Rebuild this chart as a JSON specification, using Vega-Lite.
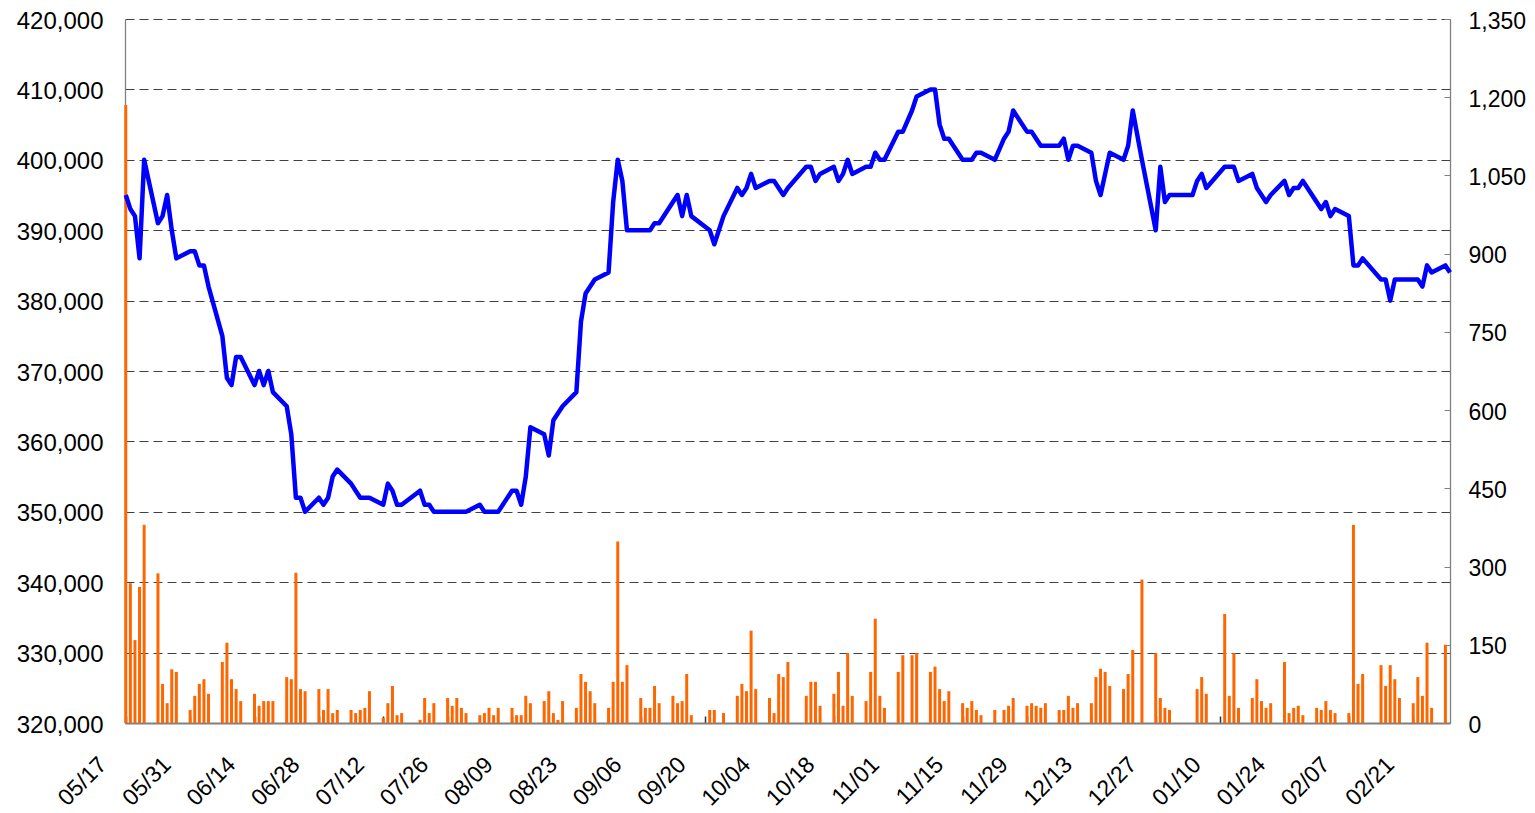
{
  "$schema": "https://vega.github.io/schema/vega-lite/v6.json",
  "width": 1325,
  "height": 704,
  "autosize": {"type": "none"},
  "padding": {"left": 125, "top": 19, "right": 85, "bottom": 90},
  "background": "white",
  "config": {
    "view": {"stroke": null},
    "font": "Liberation Sans",
    "axis": {"labelFont": "Liberation Sans", "labelFontSize": 23, "labelColor": "#000000", "labelFlush": false, "labelOverlap": false}
  },
  "datasets": {
    "price": [
      {"date":"2010-05-17","price":395000},{"date":"2010-05-18","price":393000},{"date":"2010-05-19","price":392000},{"date":"2010-05-20","price":386000},{"date":"2010-05-21","price":400000},
      {"date":"2010-05-24","price":391000},{"date":"2010-05-25","price":392000},{"date":"2010-05-26","price":395000},{"date":"2010-05-27","price":390000},{"date":"2010-05-28","price":386000},
      {"date":"2010-05-31","price":387000},{"date":"2010-06-01","price":387000},{"date":"2010-06-02","price":385000},{"date":"2010-06-03","price":385000},{"date":"2010-06-04","price":382000},
      {"date":"2010-06-07","price":375000},{"date":"2010-06-08","price":369000},{"date":"2010-06-09","price":368000},{"date":"2010-06-10","price":372000},{"date":"2010-06-11","price":372000},
      {"date":"2010-06-14","price":368000},{"date":"2010-06-15","price":370000},{"date":"2010-06-16","price":368000},{"date":"2010-06-17","price":370000},{"date":"2010-06-18","price":367000},
      {"date":"2010-06-21","price":365000},{"date":"2010-06-22","price":361000},{"date":"2010-06-23","price":352000},{"date":"2010-06-24","price":352000},{"date":"2010-06-25","price":350000},
      {"date":"2010-06-28","price":352000},{"date":"2010-06-29","price":351000},{"date":"2010-06-30","price":352000},{"date":"2010-07-01","price":355000},{"date":"2010-07-02","price":356000},
      {"date":"2010-07-05","price":354000},{"date":"2010-07-06","price":353000},{"date":"2010-07-07","price":352000},{"date":"2010-07-08","price":352000},{"date":"2010-07-09","price":352000},
      {"date":"2010-07-12","price":351000},{"date":"2010-07-13","price":354000},{"date":"2010-07-14","price":353000},{"date":"2010-07-15","price":351000},{"date":"2010-07-16","price":351000},
      {"date":"2010-07-20","price":353000},{"date":"2010-07-21","price":351000},{"date":"2010-07-22","price":351000},{"date":"2010-07-23","price":350000},
      {"date":"2010-07-26","price":350000},{"date":"2010-07-27","price":350000},{"date":"2010-07-28","price":350000},{"date":"2010-07-29","price":350000},{"date":"2010-07-30","price":350000},
      {"date":"2010-08-02","price":351000},{"date":"2010-08-03","price":350000},{"date":"2010-08-04","price":350000},{"date":"2010-08-05","price":350000},{"date":"2010-08-06","price":350000},
      {"date":"2010-08-09","price":353000},{"date":"2010-08-10","price":353000},{"date":"2010-08-11","price":351000},{"date":"2010-08-12","price":355000},{"date":"2010-08-13","price":362000},
      {"date":"2010-08-16","price":361000},{"date":"2010-08-17","price":358000},{"date":"2010-08-18","price":363000},{"date":"2010-08-19","price":364000},{"date":"2010-08-20","price":365000},
      {"date":"2010-08-23","price":367000},{"date":"2010-08-24","price":377000},{"date":"2010-08-25","price":381000},{"date":"2010-08-26","price":382000},{"date":"2010-08-27","price":383000},
      {"date":"2010-08-30","price":384000},{"date":"2010-08-31","price":394000},{"date":"2010-09-01","price":400000},{"date":"2010-09-02","price":397000},{"date":"2010-09-03","price":390000},
      {"date":"2010-09-06","price":390000},{"date":"2010-09-07","price":390000},{"date":"2010-09-08","price":390000},{"date":"2010-09-09","price":391000},{"date":"2010-09-10","price":391000},
      {"date":"2010-09-13","price":394000},{"date":"2010-09-14","price":395000},{"date":"2010-09-15","price":392000},{"date":"2010-09-16","price":395000},{"date":"2010-09-17","price":392000},
      {"date":"2010-09-21","price":390000},{"date":"2010-09-22","price":388000},{"date":"2010-09-24","price":392000},
      {"date":"2010-09-27","price":396000},{"date":"2010-09-28","price":395000},{"date":"2010-09-29","price":396000},{"date":"2010-09-30","price":398000},{"date":"2010-10-01","price":396000},
      {"date":"2010-10-04","price":397000},{"date":"2010-10-05","price":397000},{"date":"2010-10-06","price":396000},{"date":"2010-10-07","price":395000},{"date":"2010-10-08","price":396000},
      {"date":"2010-10-12","price":399000},{"date":"2010-10-13","price":399000},{"date":"2010-10-14","price":397000},{"date":"2010-10-15","price":398000},
      {"date":"2010-10-18","price":399000},{"date":"2010-10-19","price":397000},{"date":"2010-10-20","price":398000},{"date":"2010-10-21","price":400000},{"date":"2010-10-22","price":398000},
      {"date":"2010-10-25","price":399000},{"date":"2010-10-26","price":399000},{"date":"2010-10-27","price":401000},{"date":"2010-10-28","price":400000},{"date":"2010-10-29","price":400000},
      {"date":"2010-11-01","price":404000},{"date":"2010-11-02","price":404000},{"date":"2010-11-04","price":407000},{"date":"2010-11-05","price":409000},
      {"date":"2010-11-08","price":410000},{"date":"2010-11-09","price":410000},{"date":"2010-11-10","price":405000},{"date":"2010-11-11","price":403000},{"date":"2010-11-12","price":403000},
      {"date":"2010-11-15","price":400000},{"date":"2010-11-16","price":400000},{"date":"2010-11-17","price":400000},{"date":"2010-11-18","price":401000},{"date":"2010-11-19","price":401000},
      {"date":"2010-11-22","price":400000},{"date":"2010-11-24","price":403000},{"date":"2010-11-25","price":404000},{"date":"2010-11-26","price":407000},
      {"date":"2010-11-29","price":404000},{"date":"2010-11-30","price":404000},{"date":"2010-12-01","price":403000},{"date":"2010-12-02","price":402000},{"date":"2010-12-03","price":402000},
      {"date":"2010-12-06","price":402000},{"date":"2010-12-07","price":403000},{"date":"2010-12-08","price":400000},{"date":"2010-12-09","price":402000},{"date":"2010-12-10","price":402000},
      {"date":"2010-12-13","price":401000},{"date":"2010-12-14","price":397000},{"date":"2010-12-15","price":395000},{"date":"2010-12-16","price":398000},{"date":"2010-12-17","price":401000},
      {"date":"2010-12-20","price":400000},{"date":"2010-12-21","price":402000},{"date":"2010-12-22","price":407000},{"date":"2010-12-24","price":400000},
      {"date":"2010-12-27","price":390000},{"date":"2010-12-28","price":399000},{"date":"2010-12-29","price":394000},{"date":"2010-12-30","price":395000},
      {"date":"2011-01-04","price":395000},{"date":"2011-01-05","price":397000},{"date":"2011-01-06","price":398000},{"date":"2011-01-07","price":396000},
      {"date":"2011-01-11","price":399000},{"date":"2011-01-12","price":399000},{"date":"2011-01-13","price":399000},{"date":"2011-01-14","price":397000},
      {"date":"2011-01-17","price":398000},{"date":"2011-01-18","price":396000},{"date":"2011-01-19","price":395000},{"date":"2011-01-20","price":394000},{"date":"2011-01-21","price":395000},
      {"date":"2011-01-24","price":397000},{"date":"2011-01-25","price":395000},{"date":"2011-01-26","price":396000},{"date":"2011-01-27","price":396000},{"date":"2011-01-28","price":397000},
      {"date":"2011-01-31","price":394000},{"date":"2011-02-01","price":393000},{"date":"2011-02-02","price":394000},{"date":"2011-02-03","price":392000},{"date":"2011-02-04","price":393000},
      {"date":"2011-02-07","price":392000},{"date":"2011-02-08","price":385000},{"date":"2011-02-09","price":385000},{"date":"2011-02-10","price":386000},
      {"date":"2011-02-14","price":383000},{"date":"2011-02-15","price":383000},{"date":"2011-02-16","price":380000},{"date":"2011-02-17","price":383000},{"date":"2011-02-18","price":383000},
      {"date":"2011-02-21","price":383000},{"date":"2011-02-22","price":383000},{"date":"2011-02-23","price":382000},{"date":"2011-02-24","price":385000},{"date":"2011-02-25","price":384000},
      {"date":"2011-02-28","price":385000},{"date":"2011-03-01","price":384000}
    ],
    "vol": [
      {"date":"2010-05-17","vol":1185},{"date":"2010-05-18","vol":268},{"date":"2010-05-19","vol":159},{"date":"2010-05-20","vol":261},{"date":"2010-05-21","vol":380},
      {"date":"2010-05-24","vol":287},{"date":"2010-05-25","vol":75},{"date":"2010-05-26","vol":38},{"date":"2010-05-27","vol":103},{"date":"2010-05-28","vol":98},
      {"date":"2010-05-31","vol":25},{"date":"2010-06-01","vol":52},{"date":"2010-06-02","vol":75},{"date":"2010-06-03","vol":84},{"date":"2010-06-04","vol":56},
      {"date":"2010-06-07","vol":117},{"date":"2010-06-08","vol":154},{"date":"2010-06-09","vol":84},{"date":"2010-06-10","vol":65},{"date":"2010-06-11","vol":42},
      {"date":"2010-06-14","vol":56},{"date":"2010-06-15","vol":33},{"date":"2010-06-16","vol":42},{"date":"2010-06-17","vol":42},{"date":"2010-06-18","vol":42},
      {"date":"2010-06-21","vol":88},{"date":"2010-06-22","vol":84},{"date":"2010-06-23","vol":288},{"date":"2010-06-24","vol":65},{"date":"2010-06-25","vol":61},
      {"date":"2010-06-28","vol":65},{"date":"2010-06-29","vol":25},{"date":"2010-06-30","vol":65},{"date":"2010-07-01","vol":19},{"date":"2010-07-02","vol":25},
      {"date":"2010-07-05","vol":25},{"date":"2010-07-06","vol":19},{"date":"2010-07-07","vol":25},{"date":"2010-07-08","vol":29},{"date":"2010-07-09","vol":61},
      {"date":"2010-07-12","vol":10},{"date":"2010-07-13","vol":38},{"date":"2010-07-14","vol":71},{"date":"2010-07-15","vol":15},{"date":"2010-07-16","vol":19},
      {"date":"2010-07-20","vol":6},{"date":"2010-07-21","vol":48},{"date":"2010-07-22","vol":19},{"date":"2010-07-23","vol":38},
      {"date":"2010-07-26","vol":48},{"date":"2010-07-27","vol":33},{"date":"2010-07-28","vol":48},{"date":"2010-07-29","vol":29},{"date":"2010-07-30","vol":19},
      {"date":"2010-08-02","vol":15},{"date":"2010-08-03","vol":19},{"date":"2010-08-04","vol":29},{"date":"2010-08-05","vol":15},{"date":"2010-08-06","vol":29},
      {"date":"2010-08-09","vol":29},{"date":"2010-08-10","vol":15},{"date":"2010-08-11","vol":15},{"date":"2010-08-12","vol":52},{"date":"2010-08-13","vol":38},
      {"date":"2010-08-16","vol":42},{"date":"2010-08-17","vol":61},{"date":"2010-08-18","vol":19},{"date":"2010-08-19","vol":6},{"date":"2010-08-20","vol":42},
      {"date":"2010-08-23","vol":29},{"date":"2010-08-24","vol":94},{"date":"2010-08-25","vol":79},{"date":"2010-08-26","vol":61},{"date":"2010-08-27","vol":38},
      {"date":"2010-08-30","vol":29},{"date":"2010-08-31","vol":79},{"date":"2010-09-01","vol":348},{"date":"2010-09-02","vol":79},{"date":"2010-09-03","vol":111},
      {"date":"2010-09-06","vol":48},{"date":"2010-09-07","vol":29},{"date":"2010-09-08","vol":29},{"date":"2010-09-09","vol":71},{"date":"2010-09-10","vol":38},
      {"date":"2010-09-13","vol":52},{"date":"2010-09-14","vol":38},{"date":"2010-09-15","vol":42},{"date":"2010-09-16","vol":94},{"date":"2010-09-17","vol":15},
      {"date":"2010-09-21","vol":25},{"date":"2010-09-22","vol":25},{"date":"2010-09-24","vol":19},
      {"date":"2010-09-27","vol":52},{"date":"2010-09-28","vol":75},{"date":"2010-09-29","vol":61},{"date":"2010-09-30","vol":177},{"date":"2010-10-01","vol":65},
      {"date":"2010-10-04","vol":48},{"date":"2010-10-05","vol":19},{"date":"2010-10-06","vol":94},{"date":"2010-10-07","vol":88},{"date":"2010-10-08","vol":117},
      {"date":"2010-10-12","vol":52},{"date":"2010-10-13","vol":79},{"date":"2010-10-14","vol":79},{"date":"2010-10-15","vol":33},
      {"date":"2010-10-18","vol":56},{"date":"2010-10-19","vol":98},{"date":"2010-10-20","vol":33},{"date":"2010-10-21","vol":134},{"date":"2010-10-22","vol":52},
      {"date":"2010-10-25","vol":42},{"date":"2010-10-26","vol":98},{"date":"2010-10-27","vol":200},{"date":"2010-10-28","vol":52},{"date":"2010-10-29","vol":29},
      {"date":"2010-11-01","vol":98},{"date":"2010-11-02","vol":130},{"date":"2010-11-04","vol":130},{"date":"2010-11-05","vol":134},
      {"date":"2010-11-08","vol":98},{"date":"2010-11-09","vol":108},{"date":"2010-11-10","vol":65},{"date":"2010-11-11","vol":42},{"date":"2010-11-12","vol":61},
      {"date":"2010-11-15","vol":38},{"date":"2010-11-16","vol":29},{"date":"2010-11-17","vol":42},{"date":"2010-11-18","vol":25},{"date":"2010-11-19","vol":15},
      {"date":"2010-11-22","vol":25},{"date":"2010-11-24","vol":25},{"date":"2010-11-25","vol":33},{"date":"2010-11-26","vol":48},
      {"date":"2010-11-29","vol":33},{"date":"2010-11-30","vol":38},{"date":"2010-12-01","vol":33},{"date":"2010-12-02","vol":29},{"date":"2010-12-03","vol":38},
      {"date":"2010-12-06","vol":25},{"date":"2010-12-07","vol":25},{"date":"2010-12-08","vol":52},{"date":"2010-12-09","vol":29},{"date":"2010-12-10","vol":38},
      {"date":"2010-12-13","vol":38},{"date":"2010-12-14","vol":88},{"date":"2010-12-15","vol":104},{"date":"2010-12-16","vol":98},{"date":"2010-12-17","vol":71},
      {"date":"2010-12-20","vol":65},{"date":"2010-12-21","vol":94},{"date":"2010-12-22","vol":140},{"date":"2010-12-24","vol":275},
      {"date":"2010-12-27","vol":134},{"date":"2010-12-28","vol":48},{"date":"2010-12-29","vol":29},{"date":"2010-12-30","vol":25},
      {"date":"2011-01-05","vol":65},{"date":"2011-01-06","vol":88},{"date":"2011-01-07","vol":56},
      {"date":"2011-01-11","vol":209},{"date":"2011-01-12","vol":52},{"date":"2011-01-13","vol":134},{"date":"2011-01-14","vol":29},
      {"date":"2011-01-17","vol":48},{"date":"2011-01-18","vol":84},{"date":"2011-01-19","vol":42},{"date":"2011-01-20","vol":29},{"date":"2011-01-21","vol":38},
      {"date":"2011-01-24","vol":117},{"date":"2011-01-25","vol":19},{"date":"2011-01-26","vol":29},{"date":"2011-01-27","vol":33},{"date":"2011-01-28","vol":15},
      {"date":"2011-01-31","vol":29},{"date":"2011-02-01","vol":25},{"date":"2011-02-02","vol":42},{"date":"2011-02-03","vol":25},{"date":"2011-02-04","vol":19},
      {"date":"2011-02-07","vol":19},{"date":"2011-02-08","vol":380},{"date":"2011-02-09","vol":75},{"date":"2011-02-10","vol":94},
      {"date":"2011-02-14","vol":111},{"date":"2011-02-15","vol":71},{"date":"2011-02-16","vol":111},{"date":"2011-02-17","vol":84},{"date":"2011-02-18","vol":48},
      {"date":"2011-02-21","vol":38},{"date":"2011-02-22","vol":88},{"date":"2011-02-23","vol":52},{"date":"2011-02-24","vol":154},{"date":"2011-02-25","vol":29},
      {"date":"2011-02-28","vol":150}
    ]
  },
  "encoding": {
    "x": {
      "field": "date",
      "type": "temporal",
      "scale": {"domain": [{"year": 2010, "month": 5, "date": 16, "hours": 20}, {"year": 2011, "month": 3, "date": 1}], "padding": 0},
      "axis": {
        "title": null,
        "format": "%m/%d",
        "values": [
          {"year": 2010, "month": 5, "date": 17}, {"year": 2010, "month": 5, "date": 31},
          {"year": 2010, "month": 6, "date": 14}, {"year": 2010, "month": 6, "date": 28},
          {"year": 2010, "month": 7, "date": 12}, {"year": 2010, "month": 7, "date": 26},
          {"year": 2010, "month": 8, "date": 9}, {"year": 2010, "month": 8, "date": 23},
          {"year": 2010, "month": 9, "date": 6}, {"year": 2010, "month": 9, "date": 20},
          {"year": 2010, "month": 10, "date": 4}, {"year": 2010, "month": 10, "date": 18},
          {"year": 2010, "month": 11, "date": 1}, {"year": 2010, "month": 11, "date": 15},
          {"year": 2010, "month": 11, "date": 29}, {"year": 2010, "month": 12, "date": 13},
          {"year": 2010, "month": 12, "date": 27}, {"year": 2011, "month": 1, "date": 10},
          {"year": 2011, "month": 1, "date": 24}, {"year": 2011, "month": 2, "date": 7},
          {"year": 2011, "month": 2, "date": 21}
        ],
        "labelAngle": -45,
        "labelAlign": "right",
        "labelBaseline": "top",
        "labelOffset": -31,
        "labelPadding": 37,
        "tickSize": -7,
        "tickColor": "#333333",
        "tickWidth": 1.5,
        "domainColor": "#808080",
        "domainWidth": 2,
        "grid": false
      }
    }
  },
  "layer": [
    {
      "data": {"name": "vol", "format": {"parse": {"date": "date:'%Y-%m-%d'"}}},
      "mark": {"type": "bar", "color": "#FF6600", "size": 3},
      "encoding": {
        "y": {
          "field": "vol",
          "type": "quantitative",
          "scale": {"domain": [0, 1350], "nice": false, "zero": true},
          "axis": {
            "orient": "right",
            "title": null,
            "values": [0, 150, 300, 450, 600, 750, 900, 1050, 1200, 1350],
            "format": ",d",
            "grid": false,
            "tickSize": -6,
            "tickColor": "#808080",
            "labelPadding": 24,
            "labelOffset": 2,
            "domainColor": "#808080",
            "domainWidth": 1.3
          }
        }
      }
    },
    {
      "data": {"name": "price", "format": {"parse": {"date": "date:'%Y-%m-%d'"}}},
      "mark": {"type": "line", "color": "#0000FF", "strokeWidth": 4.5, "strokeJoin": "round"},
      "encoding": {
        "y": {
          "field": "price",
          "type": "quantitative",
          "scale": {"domain": [320000, 420000], "nice": false, "zero": false},
          "axis": {
            "orient": "left",
            "title": null,
            "values": [320000, 330000, 340000, 350000, 360000, 370000, 380000, 390000, 400000, 410000, 420000],
            "format": ",d",
            "grid": true,
            "gridDash": [9, 5],
            "gridColor": "#404040",
            "gridWidth": 1,
            "tickSize": 0,
            "labelPadding": 22,
            "labelOffset": 2,
            "labelFontSize": 24,
            "domainColor": "#808080",
            "domainWidth": 1.3
          }
        }
      }
    }
  ],
  "resolve": {"scale": {"y": "independent"}}
}
